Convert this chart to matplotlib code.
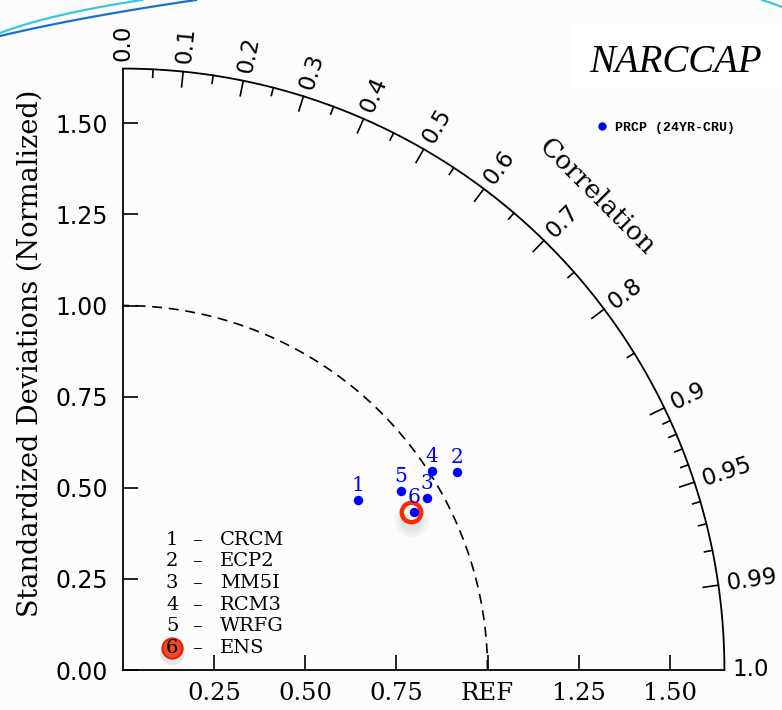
import numpy as np
import matplotlib
matplotlib.use("Agg")
import matplotlib.pyplot as plt
from matplotlib.lines import Line2D
from matplotlib.patches import Rectangle

# ---------------- data ----------------
models = ["CRCM", "ECP2", "MM5I", "RCM3", "WRFG", "ENS"]
model_ids = ["1", "2", "3", "4", "5", "6"]
std_norm = [0.797, 1.067, 0.958, 1.008, 0.907, 0.909]
corr = [0.810, 0.860, 0.870, 0.840, 0.840, 0.879]
ens_std = 0.901
ens_corr = 0.877
series_label = "PRCP (24YR-CRU)"
title = "NARCCAP"
std_ticks = [0.0, 0.25, 0.50, 0.75, 1.0, 1.25, 1.50]
std_ticklabels_y = ["0.00", "0.25", "0.50", "0.75", "1.00", "1.25", "1.50"]
std_ticks_x = [0.25, 0.50, 0.75, 1.0, 1.25, 1.50]
std_ticklabels_x = ["0.25", "0.50", "0.75", "REF", "1.25", "1.50"]
corr_major = [0.1, 0.2, 0.3, 0.4, 0.5, 0.6, 0.7, 0.8, 0.9, 0.95, 0.99]
corr_minor = [0.05, 0.15, 0.25, 0.35, 0.45, 0.55, 0.65, 0.75, 0.85,
              0.91, 0.92, 0.93, 0.94, 0.96, 0.97, 0.98]
corr_labels = [0.0] + corr_major + [1.0]
rmax = 1.65

# ---------------- figure ----------------
W, H = 782, 710
fig = plt.figure(figsize=(W / 100, H / 100), dpi=100, facecolor="#fcfcfc")
ox, oy, scale = 123, 670, 364.5
xmax, ymax = 1.80, 1.75
ax = fig.add_axes([ox / W, (H - oy) / H, xmax * scale / W, ymax * scale / H])
ax.set_xlim(0, xmax)
ax.set_ylim(0, ymax)
ax.patch.set_alpha(0)
for s in ["top", "right"]:
    ax.spines[s].set_visible(False)
for s in ["left", "bottom"]:
    ax.spines[s].set_bounds(0, rmax)
    ax.spines[s].set_linewidth(1.3)

ax.set_xticks(std_ticks_x)
ax.set_xticklabels(std_ticklabels_x, fontfamily="DejaVu Serif", fontsize=17.5)
ax.set_yticks(std_ticks)
ax.set_yticklabels(std_ticklabels_y, fontfamily="DejaVu Sans", fontsize=17)
ax.tick_params(axis="both", direction="in", length=10.5, width=1.2)
ax.tick_params(axis="y", pad=11)
ax.tick_params(axis="x", pad=9)

# outer arc
th = np.linspace(0, np.pi / 2, 400)
ax.plot(rmax * np.cos(th), rmax * np.sin(th), color="black", lw=1.3, clip_on=False)
# reference std dashed arc
ax.plot(np.cos(th), np.sin(th), color="black", lw=1.2, ls=(0, (6, 4)), clip_on=False)

# correlation ticks
def rad_tick(c, length):
    t = np.arccos(c)
    ax.plot([rmax * np.cos(t), (rmax - length) * np.cos(t)],
            [rmax * np.sin(t), (rmax - length) * np.sin(t)],
            color="black", lw=1.2, clip_on=False)

for c in corr_major:
    rad_tick(c, 0.042)
for c in corr_minor:
    rad_tick(c, 0.022)

for c in corr_labels:
    t = np.arccos(c)
    r = rmax + 0.022
    ax.text(r * np.cos(t), r * np.sin(t), f"{c:g}" if c not in (0.0, 1.0) else f"{c:.1f}",
            rotation=np.degrees(t), rotation_mode="anchor", ha="left", va="center",
            fontsize=16.5, fontfamily="DejaVu Sans", clip_on=False)

ax.text(1.837 * np.cos(np.pi / 4), 1.837 * np.sin(np.pi / 4), "Correlation",
        rotation=-45, rotation_mode="anchor", ha="center", va="center",
        fontsize=19, fontfamily="DejaVu Serif")

fig.text(30 / W, 1 - 353 / H, "Standardized Deviations (Normalized)", rotation=90,
         ha="center", va="center", fontsize=19.5, fontfamily="DejaVu Serif")

# ---------------- points ----------------
xs = np.array(std_norm) * np.array(corr)
ys = np.array(std_norm) * np.sin(np.arccos(np.array(corr)))
ex = ens_std * ens_corr
ey = ens_std * np.sin(np.arccos(ens_corr))

# ENS highlight ring with soft shadow
for k, a in enumerate([0.06, 0.06, 0.06]):
    ax.plot(ex, ey - 0.022, "o", color="#607080", alpha=a, ms=16 + 4 * k, mew=0, zorder=3)
ax.plot(ex, ey, "o", mfc="white", mec="#ff2a00", ms=14, mew=3.2, zorder=4)

ax.plot(xs, ys, "o", color="#0000ff", ms=6.8, mew=0, zorder=5, label=series_label)
for i, lab in enumerate(model_ids):
    ax.annotate(lab, (xs[i], ys[i]), xytext=(0, 3.5), textcoords="offset points",
                ha="center", va="bottom", color="#0000ff", fontsize=14.5,
                fontfamily="DejaVu Serif", zorder=6)

# model legend (lower left)
row0 = 0.357
dy = 0.0593
for i, (n, m) in enumerate(zip(model_ids, models)):
    yy = row0 - i * dy
    if m == "ENS":
        ax.plot(0.135, yy - 0.01, "o", color="#607080", alpha=0.15, ms=18, mew=0, zorder=3)
        ax.plot(0.135, yy, "o", mfc="#f04a28", mec="#e82000", ms=14.5, mew=1.5, zorder=4)
    ax.text(0.135, yy, n, ha="center", va="center", fontsize=14,
            fontfamily="DejaVu Serif", zorder=6)
    ax.text(0.204, yy, "\u2013", ha="center", va="center", fontsize=14,
            fontfamily="DejaVu Serif", zorder=6)
    ax.text(0.266, yy, m, ha="left", va="center", fontsize=14,
            fontfamily="DejaVu Serif", zorder=6)

# series legend
leg = fig.legend(handles=[Line2D([], [], ls="none", marker="o", color="#0000ff", ms=6, mew=0)],
                 labels=[series_label], loc="center left",
                 bbox_to_anchor=(597 / W, 1 - 128 / H), frameon=False,
                 handlelength=0.8, handletextpad=0.6, borderpad=0, borderaxespad=0,
                 prop={"family": "Liberation Mono", "weight": "bold", "size": 9.5})

# title box
fig.patches.append(Rectangle((572 / W, 1 - 88 / H), (W - 572) / W, 65 / H,
                             transform=fig.transFigure, facecolor="white",
                             edgecolor="none", zorder=0))
fig.text(676 / W, 1 - 72 / H, title, ha="center", va="baseline", fontsize=28,
         fontfamily="Liberation Serif", style="italic")

# decorative slide swooshes
def bez(p0, p1, p2, n=60):
    t = np.linspace(0, 1, n)[:, None]
    p = (1 - t) ** 2 * np.array(p0) + 2 * (1 - t) * t * np.array(p1) + t ** 2 * np.array(p2)
    return p[:, 0] / W, 1 - p[:, 1] / H

for (p0, p1, p2, col) in [((0, 33), (50, 14), (142, 0), "#3cc8d8"),
                           ((0, 36), (80, 17), (196, 0), "#1a6fd0"),
                           ((762, 0), (772, 3), (782, 7), "#3cc8d8")]:
    bx, by = bez(p0, p1, p2)
    fig.lines.append(Line2D(bx, by, transform=fig.transFigure, color=col, lw=1.6))

fig.savefig("out.png", dpi=100, facecolor=fig.get_facecolor())
